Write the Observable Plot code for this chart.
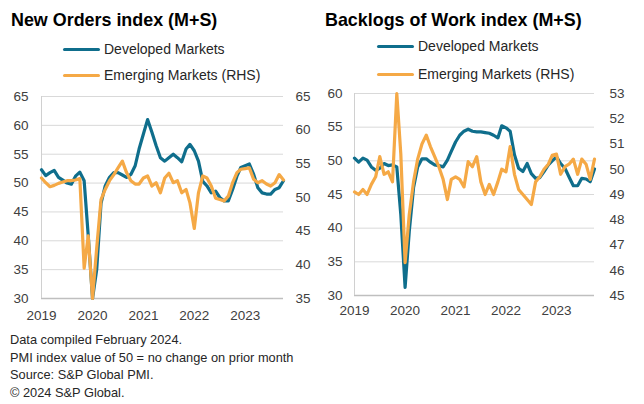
<!DOCTYPE html>
<html><head><meta charset="utf-8">
<script src="https://cdn.jsdelivr.net/npm/d3@7"></script>
<script src="https://cdn.jsdelivr.net/npm/@observablehq/plot@0.6"></script>
<style>
body{margin:0;background:#fff;font-family:"Liberation Sans",Arial,sans-serif;}
#wrap{position:relative;width:644px;height:404px;overflow:hidden;background:#fff;}
.title{position:absolute;font-weight:bold;font-size:17.9px;line-height:20px;color:#000;white-space:nowrap;z-index:2;}
.leg{position:absolute;font-size:14px;line-height:16px;height:16px;color:#262626;display:flex;align-items:center;white-space:nowrap;z-index:2;}
.sw{display:inline-block;width:37px;height:3px;margin-right:4px;border-radius:1.5px;}
.panel{position:absolute;top:80px;z-index:1;}
#foot{position:absolute;left:10px;top:331px;font-size:12.8px;line-height:17.7px;color:#262626;white-space:nowrap;z-index:2;}
</style></head>
<body>
<div id="wrap">
  <div class="panel" id="p1" style="left:0px;"></div>
  <div class="panel" id="p2" style="left:322px;"></div>
  <div class="title" style="left:11px;top:10px;">New Orders index (M+S)</div>
  <div class="leg" style="left:63px;top:41px;"><span class="sw" style="background:#0f6e8c"></span>Developed Markets</div>
  <div class="leg" style="left:63px;top:67px;"><span class="sw" style="background:#f5a946"></span>Emerging Markets (RHS)</div>
  <div class="title" style="left:325px;top:10px;">Backlogs of Work index (M+S)</div>
  <div class="leg" style="left:377px;top:38px;"><span class="sw" style="background:#0f6e8c"></span>Developed Markets</div>
  <div class="leg" style="left:377px;top:66px;"><span class="sw" style="background:#f5a946"></span>Emerging Markets (RHS)</div>
  <div id="foot">Data compiled February 2024.<br>PMI index value of 50 = no change on prior month<br>Source: S&amp;P Global PMI.<br>© 2024 S&amp;P Global.</div>
</div>
<script>
// Monthly observations, Apr 2019 – Jan 2024
const months = d3.utcMonth.range(new Date(Date.UTC(2019, 3, 1)), new Date(Date.UTC(2024, 1, 1)));
const yearLabels = [2019, 2020, 2021, 2022, 2023];

const dmNewOrders = [52.3,51.3,51.8,52.2,51.0,50.5,50.0,49.8,51.2,51.9,50.4,41.0,30.0,35.0,46.5,49.5,51.0,51.8,51.8,51.4,51.0,51.5,53.0,55.9,58.5,61.0,58.8,56.5,54.4,53.8,54.4,55.0,54.4,53.7,55.9,56.7,55.6,53.8,50.3,49.5,48.3,48.6,47.5,46.9,46.9,48.9,51.2,52.7,53.0,53.3,51.5,49.2,48.3,48.1,48.1,48.9,49.2,50.4];
const emNewOrders = [52.9,52.2,51.6,51.8,52.1,52.3,52.5,52.5,52.6,52.8,39.5,44.3,35.0,42.5,49.7,51.2,52.5,53.4,54.4,55.4,53.7,52.5,52.0,52.0,52.9,53.2,51.7,52.2,50.7,52.9,53.6,52.2,52.5,50.7,51.2,49.2,45.4,50.7,53.2,52.9,51.7,49.9,49.7,49.5,50.2,52.2,53.7,54.2,54.3,54.4,52.7,52.2,52.5,52.0,51.7,52.2,53.4,52.6];
const dmBacklogs = [50.4,49.8,50.4,50.1,49.1,48.6,48.9,49.6,49.3,49.4,49.1,42.0,31.2,39.5,46.0,49.1,50.3,50.3,49.8,49.4,49.3,49.1,50.1,51.4,52.8,53.8,54.4,54.7,54.4,54.3,54.3,54.2,54.1,53.8,53.4,55.2,54.9,54.4,50.9,48.9,48.4,49.6,48.1,47.4,47.5,48.4,49.4,50.0,50.6,49.6,48.9,47.6,46.3,46.3,47.4,47.3,46.9,48.8];
const emBacklogs = [49.1,49.0,49.2,49.0,49.4,49.7,50.5,49.8,49.9,49.5,53.0,50.6,46.3,48.2,49.5,50.4,51.0,51.35,50.9,50.5,50.1,49.6,48.8,49.6,49.7,49.6,49.3,50.3,50.1,50.5,49.5,49.0,49.4,49.0,49.5,50.0,49.9,50.9,49.8,49.2,49.0,48.8,48.6,49.5,49.7,50.0,50.2,50.55,50.6,49.8,50.1,50.2,50.4,49.8,50.4,50.2,49.6,50.4];

const leftTicks1 = [30,35,40,45,50,55,60,65];
const rightTicks1 = [35,40,45,50,55,60,65];
const leftTicks2 = [30,35,40,45,50,55,60];
const rightTicks2 = [45,46,47,48,49,50,51,52,53];

const BLUE = "#0f6e8c", ORANGE = "#f5a946";
const yearTicks = yearLabels.map(y => new Date(Date.UTC(y, 3, 1)));

function panel({dm, em, lhs, rhs, margins, padX, padL, padR}) {
  const [l0, l1] = [lhs[0], lhs[lhs.length - 1]];
  const [r0, r1] = [rhs[0], rhs[rhs.length - 1]];
  const toL = v => l0 + (v - r0) * (l1 - l0) / (r1 - r0);
  const fromL = v => r0 + (v - l0) * (r1 - r0) / (l1 - l0);
  const rows = months.map((date, i) => ({date, dm: dm[i], em: toL(em[i])}));
  return Plot.plot({
    width: 322, height: 250,
    marginLeft: margins[0], marginRight: margins[1], marginTop: margins[2], marginBottom: margins[3],
    x: {type: "utc", domain: [months[0], months[months.length - 1]], axis: null},
    y: {domain: [l0, l1], axis: null},
    style: {fontFamily: "Liberation Sans, Arial, sans-serif", fontSize: "13.5px", color: "#404040", background: "transparent", overflow: "visible"},
    marks: [
      Plot.ruleY(lhs.slice(1), {stroke: "#d9d9d9", strokeWidth: 1}),
      Plot.ruleY([l0], {stroke: "#bfbfbf", strokeWidth: 1.5}),
      Plot.ruleX([months[0]], {stroke: "#d0d0d0", strokeWidth: 1}),
      Plot.line(rows, {x: "date", y: "dm", stroke: BLUE, strokeWidth: 3.2}),
      Plot.line(rows, {x: "date", y: "em", stroke: ORANGE, strokeWidth: 3.2}),
      Plot.axisY(lhs, {anchor: "left", tickSize: 0, tickPadding: padL, tickFormat: d => d}),
      Plot.axisY(rhs.map(toL), {anchor: "right", tickSize: 0, tickPadding: padR, tickFormat: d => Math.round(fromL(d))}),
      Plot.axisX(yearTicks, {anchor: "bottom", tickSize: 0, tickPadding: padX, tickFormat: d => d3.utcFormat("%Y")(d)})
    ]
  });
}

document.getElementById("p1").append(panel({
  dm: dmNewOrders, em: emNewOrders, lhs: leftTicks1, rhs: rightTicks1,
  margins: [41, 39, 16, 32], padX: 12, padL: 13, padR: 12
}));
document.getElementById("p2").append(panel({
  dm: dmBacklogs, em: emBacklogs, lhs: leftTicks2, rhs: rightTicks2,
  margins: [32, 50, 13, 35], padX: 10, padL: 12, padR: 15
}));
</script>
</body></html>
